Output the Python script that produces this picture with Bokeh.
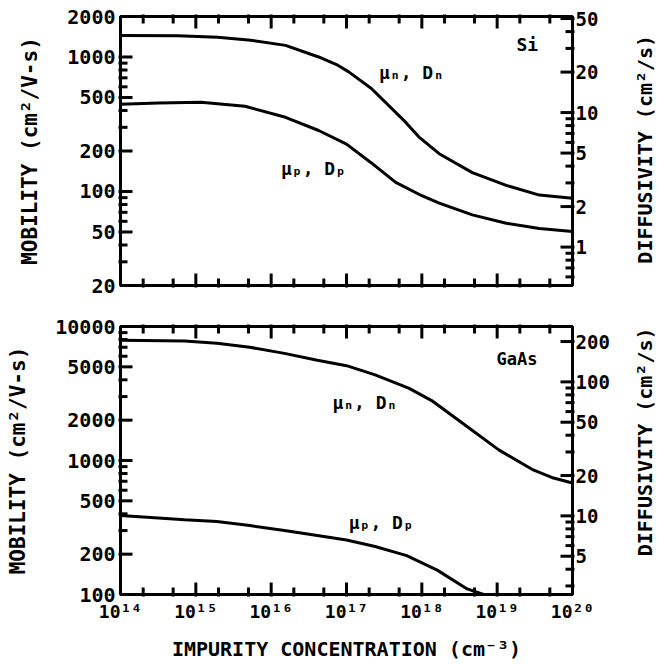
import math
from bokeh.plotting import figure
from bokeh.models import LogAxis, Range1d, FixedTicker, CustomJSTickFormatter, LogScale
from bokeh.layouts import column, row
from bokeh.embed import file_html
from bokeh.resources import INLINE
from bokeh.core.properties import value

KT_Q = 0.0259  # D = mu * kT/q at 300 K

# ---------------- data ----------------
si_n_conc = [1e14, 5.75e14, 1.95e15, 5.37e15, 1.55e16, 4.27e16, 7.76e16, 1.07e17,
             2.14e17, 6.17e17, 9.1e17, 1.7e18, 4.68e18, 1.32e19, 3.63e19, 1e20]
si_n_mob = [1445, 1440, 1400, 1330, 1220, 1000, 865, 775,
            583, 325, 255, 191, 138, 111, 94, 89]

si_p_conc = [1e14, 3.2e14, 1.17e15, 4.5e15, 1.55e16, 4.27e16, 1e17, 2.14e17,
             4.5e17, 1e18, 1.7e18, 4.68e18, 1.32e19, 3.63e19, 1e20]
si_p_mob = [445, 455, 460, 430, 356, 284, 225, 163,
            117, 93, 82, 67, 58, 53, 50.5]

gaas_n_conc = [1e14, 7.1e14, 1.9e15, 5.2e15, 1.5e16, 4.1e16, 1e17, 2.4e17,
               6.8e17, 1.35e18, 3.7e18, 1.05e19, 2.9e19, 5.6e19, 1e20]
gaas_n_mob = [7900, 7800, 7500, 7000, 6300, 5600, 5100, 4350,
              3450, 2800, 1850, 1200, 860, 740, 680]

gaas_p_conc = [1e14, 7.1e14, 1.9e15, 5.2e15, 1.5e16, 4.1e16, 1e17, 2.4e17,
               6.3e17, 1.6e18, 4e18, 6.6e18, 7.2e18]
gaas_p_mob = [389, 361, 350, 327, 300, 276, 255, 228,
              195, 152, 110, 100, 96]

x_ticks = [1e14, 1e15, 1e16, 1e17, 1e18, 1e19, 1e20]
x_tick_labels = ["10¹⁴", "10¹⁵", "10¹⁶", "10¹⁷", "10¹⁸", "10¹⁹", "10²⁰"]
x_minor = [2e14, 5e14, 2e15, 5e15, 2e16, 5e16, 2e17, 5e17, 2e18, 5e18, 2e19, 5e19]

si_mu_ticks = [20.0, 50.0, 100.0, 200.0, 500.0, 1000.0, 2000.0]
si_mu_labels = ["20", "50", "100", "200", "500", "1000", "2000"]
si_mu_minor = [30.0, 40.0, 60.0, 70.0, 80.0, 90.0, 300.0, 400.0, 600.0, 700.0, 800.0, 900.0]
si_d_ticks = [1.0, 2.0, 5.0, 10.0, 20.0, 50.0]
si_d_labels = ["1", "2", "5", "10", "20", "50"]
si_d_minor = [0.6, 0.7, 0.8, 0.9, 3.0, 4.0, 6.0, 7.0, 8.0, 9.0, 30.0, 40.0]

ga_mu_ticks = [100.0, 200.0, 500.0, 1000.0, 2000.0, 5000.0, 10000.0]
ga_mu_labels = ["100", "200", "500", "1000", "2000", "5000", "10000"]
ga_mu_minor = [300.0, 400.0, 600.0, 700.0, 800.0, 900.0,
               3000.0, 4000.0, 6000.0, 7000.0, 8000.0, 9000.0]
ga_d_ticks = [5.0, 10.0, 20.0, 50.0, 100.0, 200.0]
ga_d_labels = ["5", "10", "20", "50", "100", "200"]
ga_d_minor = [3.0, 4.0, 6.0, 7.0, 8.0, 9.0, 30.0, 40.0, 60.0, 70.0, 80.0, 90.0]

FONT = "DejaVu Sans Mono"
MAJ, MIN = 12, 7           # tick lengths, px
MAIN_W, SIDE_W = 625, 32   # main panel width, strip for the right-hand title
B_LEFT, B_RIGHT = 120, 53
X_LO, X_HI = 1e14, 1e20


def fmt(ticks, labels):
    return CustomJSTickFormatter(args=dict(t=ticks, l=labels), code="""
        for (let i = 0; i < t.length; i++) {
            if (Math.abs(Math.log10(t[i]) - Math.log10(tick)) < 1e-6) return l[i];
        }
        return "";
    """)


def style_axis(ax, size="20px"):
    ax.axis_line_width = 3
    ax.axis_line_color = "black"
    ax.major_tick_in = 0
    ax.major_tick_out = 0
    ax.minor_tick_in = 0
    ax.minor_tick_out = 0
    ax.major_label_text_font = FONT
    ax.major_label_text_font_style = "bold"
    ax.major_label_text_font_size = size
    ax.major_label_text_color = "black"
    ax.axis_label_text_font = FONT
    ax.axis_label_text_font_style = "bold"
    ax.axis_label_text_font_size = "20px"
    ax.axis_label_text_color = "black"


def draw_ticks(p, frame_w, frame_h, y_lo, y_hi, mu_t, mu_m, d_t, d_m):
    """Inward ticks on all four sides, drawn as segments in data space."""
    kx = 10 ** (math.log10(X_HI / X_LO) / frame_w)   # data factor per pixel, x
    ky = 10 ** (math.log10(y_hi / y_lo) / frame_h)   # data factor per pixel, y
    x0, y0, x1, y1 = [], [], [], []
    for vals, ln in ((x_ticks[1:-1], MAJ), (x_minor, MIN)):
        for v in vals:
            x0 += [v, v]; x1 += [v, v]
            y0 += [y_lo / ky ** 2, y_hi * ky ** 2]
            y1 += [y_lo * ky ** ln, y_hi / ky ** ln]
    for vals, ln in (([t for t in mu_t if y_lo < t < y_hi], MAJ), (mu_m, MIN)):
        for v in vals:
            x0.append(X_LO / kx ** 2); x1.append(X_LO * kx ** ln)
            y0.append(v); y1.append(v)
    for vals, ln in (([t / KT_Q for t in d_t if y_lo < t / KT_Q < y_hi], MAJ),
                     ([t / KT_Q for t in d_m], MIN)):
        for v in vals:
            x0.append(X_HI * kx ** 2); x1.append(X_HI / kx ** ln)
            y0.append(v); y1.append(v)
    p.segment(x0=x0, y0=y0, x1=x1, y1=y1, line_color="black", line_width=3,
              level="overlay")


def make_panel(height, top, bottom, y_lo, y_hi, mu_t, mu_l, d_t, d_l, show_x):
    p = figure(width=MAIN_W, height=height, x_axis_type="log", y_axis_type="log",
               x_range=Range1d(X_LO, X_HI), y_range=Range1d(y_lo, y_hi),
               output_backend="svg", toolbar_location=None,
               min_border_left=B_LEFT, min_border_right=B_RIGHT,
               min_border_top=top, min_border_bottom=bottom)
    p.grid.visible = False
    p.outline_line_color = "black"
    p.outline_line_width = 3
    p.background_fill_color = "white"
    p.border_fill_color = "white"

    xa = p.xaxis[0]
    if show_x:
        xa.ticker = FixedTicker(ticks=x_ticks)
        xa.formatter = fmt(x_ticks, x_tick_labels)
        style_axis(xa, "18px")
        xa.major_label_standoff = 6
        xa.axis_label = "IMPURITY CONCENTRATION (cm⁻³)"
        xa.axis_label_standoff = 12
    else:
        xa.visible = False

    ya = p.yaxis[0]
    ya.ticker = FixedTicker(ticks=mu_t)
    ya.formatter = fmt(mu_t, mu_l)
    style_axis(ya)
    ya.major_label_standoff = 5
    ya.axis_label = "MOBILITY (cm²/V-s)"
    ya.axis_label_text_font_size = "21px"
    ya.axis_label_standoff = 22

    p.extra_y_ranges = {"D": Range1d(y_lo * KT_Q, y_hi * KT_Q)}
    p.extra_y_scales = {"D": LogScale()}
    ra = LogAxis(y_range_name="D", ticker=FixedTicker(ticks=d_t),
                 formatter=fmt(d_t, d_l))
    style_axis(ra, "19px")
    ra.major_label_standoff = 3
    p.add_layout(ra, "right")
    return p


def side_title(height, top, bottom):
    """Narrow strip carrying the right-hand axis title, reading bottom to top."""
    q = figure(width=SIDE_W, height=height, x_range=Range1d(0, 1), y_range=Range1d(0, 1),
               output_backend="svg", toolbar_location=None,
               x_axis_location=None, y_axis_location=None,
               min_border=0, min_border_left=0, min_border_right=0,
               min_border_top=0, min_border_bottom=0)
    q.grid.visible = False
    q.outline_line_color = None
    q.background_fill_color = "white"
    q.border_fill_color = "white"
    yc = 1 - (top + (height - top - bottom) / 2) / height
    q.text(x=[0.62], y=[yc], text=["DIFFUSIVITY (cm²/s)"], angle=math.pi / 2,
           text_align="center", text_baseline="middle", text_font=value(FONT),
           text_font_style="bold", text_font_size="20px", text_color="black")
    return q


def label(p, x, y, txt, size="18px"):
    p.text(x=[x], y=[y], text=[txt], text_font=value(FONT), text_font_style="bold",
           text_font_size=size, text_baseline="middle", text_color="black")


# ---------------- Si panel ----------------
H1, T1, BT1 = 305, 16, 20
p1 = make_panel(H1, T1, BT1, 20.0, 2000.0, si_mu_ticks, si_mu_labels,
                si_d_ticks, si_d_labels, False)
p1.line(si_n_conc, si_n_mob, line_color="black", line_width=3)
p1.line(si_p_conc, si_p_mob, line_color="black", line_width=3)
label(p1, 2.7e17, 770, "μₙ, Dₙ")
label(p1, 1.35e16, 148, "μₚ, Dₚ")
label(p1, 1.8e19, 1240, "Si")
draw_ticks(p1, MAIN_W - B_LEFT - B_RIGHT, H1 - T1 - BT1, 20.0, 2000.0,
           si_mu_ticks, si_mu_minor, si_d_ticks, si_d_minor)

# ---------------- GaAs panel ----------------
H2, T2, BT2 = 360, 21, 71
p2 = make_panel(H2, T2, BT2, 100.0, 10000.0, ga_mu_ticks, ga_mu_labels,
                ga_d_ticks, ga_d_labels, True)
p2.line(gaas_n_conc, gaas_n_mob, line_color="black", line_width=3)
p2.line(gaas_p_conc, gaas_p_mob, line_color="black", line_width=3)
label(p2, 6.5e16, 2700, "μₙ, Dₙ")
label(p2, 1.07e17, 344, "μₚ, Dₚ")
label(p2, 9.8e18, 5770, "GaAs", "17px")
draw_ticks(p2, MAIN_W - B_LEFT - B_RIGHT, H2 - T2 - BT2, 100.0, 10000.0,
           ga_mu_ticks, ga_mu_minor, ga_d_ticks, ga_d_minor)

layout = column(row(p1, side_title(H1, T1, BT1), spacing=0),
                row(p2, side_title(H2, T2, BT2), spacing=0), spacing=0)
open("out.html", "w").write(file_html(layout, INLINE))
